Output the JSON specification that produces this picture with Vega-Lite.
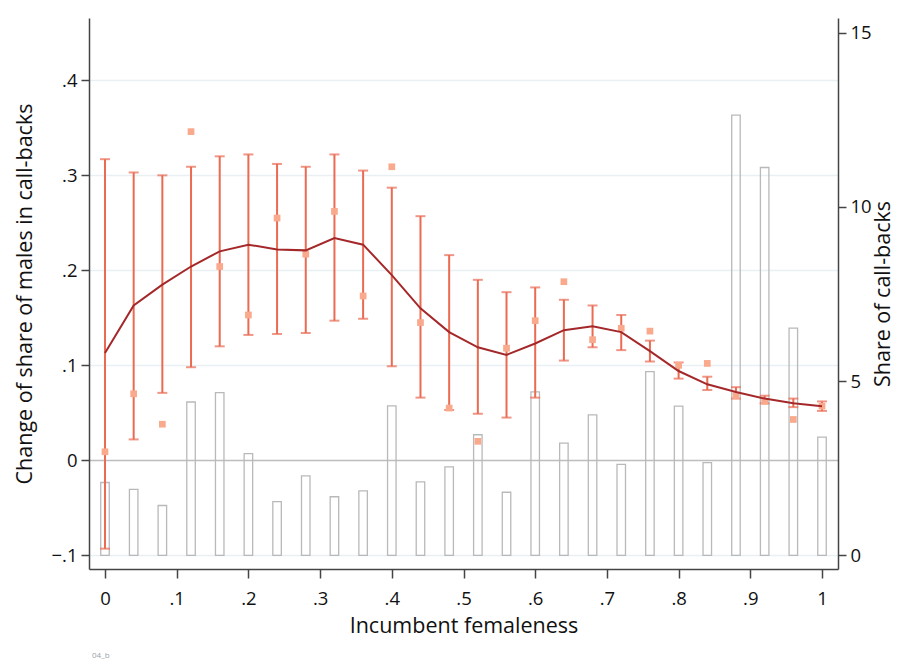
{
  "$schema": "https://vega.github.io/schema/vega-lite/v6.json",
  "width": 749,
  "height": 551,
  "autosize": {"type": "none"},
  "padding": {"left": 89, "top": 18, "right": 64, "bottom": 96},
  "background": "white",
  "config": {
    "view": {"stroke": null},
    "font": "Open Sans",
    "axis": {
      "labelFont": "Open Sans",
      "titleFont": "Open Sans",
      "labelColor": "#111",
      "titleColor": "#111",
      "titleFontWeight": "normal",
      "domainColor": "#444",
      "domainWidth": 1.5,
      "tickColor": "#444",
      "tickWidth": 1.5,
      "labelFontSize": 18.5,
      "titleFontSize": 21.5
    }
  },
  "title": {"text": "04_b", "orient": "bottom", "anchor": "start", "frame": "group", "fontSize": 8, "color": "#9aa3ad", "fontWeight": "normal", "offset": 15, "dx": 3},
  "data": {
    "values": [
      {"x": 0.00, "bar": 2.09, "hi": 0.317, "lo": -0.093, "pt": 0.009, "fit": 0.113},
      {"x": 0.04, "bar": 1.89, "hi": 0.303, "lo": 0.022, "pt": 0.070, "fit": 0.163},
      {"x": 0.08, "bar": 1.43, "hi": 0.300, "lo": 0.071, "pt": 0.038, "fit": 0.185},
      {"x": 0.12, "bar": 4.40, "hi": 0.309, "lo": 0.098, "pt": 0.346, "fit": 0.204},
      {"x": 0.16, "bar": 4.67, "hi": 0.320, "lo": 0.120, "pt": 0.204, "fit": 0.220},
      {"x": 0.20, "bar": 2.92, "hi": 0.322, "lo": 0.132, "pt": 0.153, "fit": 0.227},
      {"x": 0.24, "bar": 1.54, "hi": 0.312, "lo": 0.133, "pt": 0.255, "fit": 0.222},
      {"x": 0.28, "bar": 2.28, "hi": 0.309, "lo": 0.134, "pt": 0.217, "fit": 0.221},
      {"x": 0.32, "bar": 1.68, "hi": 0.322, "lo": 0.147, "pt": 0.262, "fit": 0.234},
      {"x": 0.36, "bar": 1.85, "hi": 0.305, "lo": 0.149, "pt": 0.173, "fit": 0.227},
      {"x": 0.40, "bar": 4.29, "hi": 0.287, "lo": 0.099, "pt": 0.309, "fit": 0.195},
      {"x": 0.44, "bar": 2.11, "hi": 0.257, "lo": 0.066, "pt": 0.145, "fit": 0.160},
      {"x": 0.48, "bar": 2.54, "hi": 0.216, "lo": 0.053, "pt": 0.055, "fit": 0.135},
      {"x": 0.52, "bar": 3.46, "hi": 0.190, "lo": 0.049, "pt": 0.020, "fit": 0.119},
      {"x": 0.56, "bar": 1.81, "hi": 0.177, "lo": 0.045, "pt": 0.118, "fit": 0.111},
      {"x": 0.60, "bar": 4.69, "hi": 0.182, "lo": 0.066, "pt": 0.147, "fit": 0.123},
      {"x": 0.64, "bar": 3.22, "hi": 0.169, "lo": 0.105, "pt": 0.188, "fit": 0.137},
      {"x": 0.68, "bar": 4.03, "hi": 0.163, "lo": 0.119, "pt": 0.127, "fit": 0.141},
      {"x": 0.72, "bar": 2.61, "hi": 0.153, "lo": 0.116, "pt": 0.139, "fit": 0.135},
      {"x": 0.76, "bar": 5.27, "hi": 0.126, "lo": 0.104, "pt": 0.136, "fit": 0.115},
      {"x": 0.80, "bar": 4.28, "hi": 0.103, "lo": 0.086, "pt": 0.100, "fit": 0.094},
      {"x": 0.84, "bar": 2.66, "hi": 0.088, "lo": 0.074, "pt": 0.102, "fit": 0.080},
      {"x": 0.88, "bar": 12.63, "hi": 0.077, "lo": 0.065, "pt": 0.068, "fit": 0.072},
      {"x": 0.92, "bar": 11.13, "hi": 0.068, "lo": 0.060, "pt": 0.062, "fit": 0.065},
      {"x": 0.96, "bar": 6.52, "hi": 0.065, "lo": 0.056, "pt": 0.043, "fit": 0.060},
      {"x": 1.00, "bar": 3.39, "hi": 0.062, "lo": 0.052, "pt": 0.057, "fit": 0.057}
    ]
  },
  "layer": [
    {
      "mark": {"type": "bar", "size": 8.5, "fill": "transparent", "stroke": "#b9b9b9", "strokeWidth": 1.3},
      "encoding": {
        "x": {"field": "x", "type": "quantitative", "scale": {"domain": [-0.0223, 1.0223], "nice": false, "zero": false, "padding": 0},
          "axis": {"title": "Incumbent femaleness", "values": [0, 0.1, 0.2, 0.3, 0.4, 0.5, 0.6, 0.7, 0.8, 0.9, 1],
            "labelExpr": "datum.value == 0 ? '0' : datum.value == 1 ? '1' : replace(format(datum.value, '.1f'), '0.', '.')",
            "grid": false, "tickSize": 9, "labelPadding": 11, "titlePadding": 8}},
        "y": {"field": "bar", "type": "quantitative", "scale": {"domain": [-0.393, 15.42], "nice": false, "zero": false},
          "axis": {"orient": "right", "title": "Share of call-backs", "values": [0, 5, 10, 15], "grid": false,
            "tickSize": 8, "labelPadding": 4, "titleAngle": 270, "titleBaseline": "top", "titlePadding": 1}},
        "y2": {"datum": 0}
      }
    },
    {
      "layer": [
        {
          "mark": {"type": "rule", "color": "#ea6a52", "strokeWidth": 2},
          "encoding": {
            "x": {"field": "x", "type": "quantitative"},
            "y": {"field": "hi", "type": "quantitative", "scale": {"domain": [-0.1144, 0.4656], "nice": false, "zero": false},
              "axis": {"orient": "left", "title": "Change of share of males in call-backs",
                "values": [-0.1, 0, 0.1, 0.2, 0.3, 0.4],
                "labelExpr": "datum.value == 0 ? '0' : replace(format(datum.value, '.1f'), '0.', '.')",
                "grid": true,
                "gridColor": {"condition": {"test": "datum.value == 0", "value": "#bdbdbd"}, "value": "#e9f0f3"},
                "gridWidth": 1.3,
                "tickSize": 8, "labelPadding": 4, "titlePadding": 14}},
            "y2": {"field": "lo"}
          }
        },
        {
          "mark": {"type": "tick", "orient": "horizontal", "color": "#ea6a52", "size": 10, "thickness": 2},
          "encoding": {
            "x": {"field": "x", "type": "quantitative"},
            "y": {"field": "hi", "type": "quantitative"}
          }
        },
        {
          "mark": {"type": "tick", "orient": "horizontal", "color": "#ea6a52", "size": 10, "thickness": 2},
          "encoding": {
            "x": {"field": "x", "type": "quantitative"},
            "y": {"field": "lo", "type": "quantitative"}
          }
        },
        {
          "mark": {"type": "point", "shape": "square", "filled": true, "color": "#f9a98c", "opacity": 1, "size": 45},
          "encoding": {
            "x": {"field": "x", "type": "quantitative"},
            "y": {"field": "pt", "type": "quantitative"}
          }
        },
        {
          "mark": {"type": "line", "color": "#a4282a", "strokeWidth": 2},
          "encoding": {
            "x": {"field": "x", "type": "quantitative"},
            "y": {"field": "fit", "type": "quantitative"}
          }
        }
      ]
    }
  ],
  "resolve": {"scale": {"y": "independent"}, "axis": {"y": "independent"}}
}
